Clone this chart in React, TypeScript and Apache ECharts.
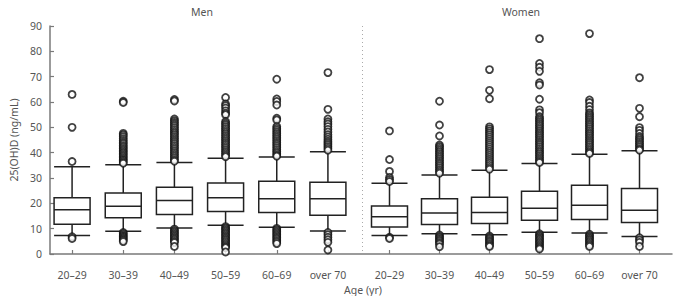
import React, { useEffect, useRef } from "react";
import * as echarts from "echarts";

const ageGroups = ["20–29", "30–39", "40–49", "50–59", "60–69", "over 70"];
const yTicks = { min: 0, max: 90, interval: 10 };

// [lower whisker, Q1, median, Q3, upper whisker]
const menBoxes = [
  [7.3, 11.7, 17.5, 22.2, 34.4],
  [9.0, 14.3, 18.8, 24.1, 35.2],
  [10.3, 15.6, 21.1, 26.3, 36.1],
  [11.3, 16.8, 22.2, 28.0, 37.8],
  [10.6, 16.4, 21.8, 28.7, 38.3],
  [9.1, 15.3, 21.8, 28.3, 40.4],
];
const womenBoxes = [
  [7.3, 10.7, 14.7, 18.9, 27.9],
  [8.0, 11.6, 16.2, 21.8, 31.2],
  [7.6, 12.0, 16.4, 22.4, 33.1],
  [8.6, 13.3, 18.1, 24.8, 35.7],
  [8.3, 13.6, 19.2, 27.1, 39.4],
  [6.9, 12.4, 17.3, 25.9, 40.8],
];

const menOutliers = [
  [63, 50, 36.5, 6.8, 6.1],
  [60.3, 59.8, 47.6, 47, 46.3, 45.5, 44.8, 44.1, 43.5, 42.8, 42.2, 41.6, 41, 40.4, 39.8, 39.2, 38.6, 38, 37.4, 36.9, 36.3, 35.8,
    8.5, 8, 7.4, 6.9, 6.4, 5.9, 5.4, 4.9],
  [61, 60.4, 53.3, 52.6, 51.9, 51.2, 50.5, 49.8, 49.1, 48.4, 47.7, 47, 46.3, 45.6, 44.9, 44.2, 43.5, 42.8, 42.1, 41.4, 40.7, 40, 39.3, 38.6, 37.9, 37.2, 36.6,
    9.8, 9.2, 8.6, 8, 7.4, 6.8, 6.2, 5.6, 5, 4.5, 3],
  [61.8, 59.2, 58.5, 57.6, 56.5, 55.6, 55, 52.3, 51.6, 50.9, 50.2, 49.5, 48.8, 48.1, 47.4, 46.7, 46, 45.3, 44.6, 43.9, 43.2, 42.5, 41.8, 41.1, 40.4, 39.7, 39, 38.4,
    10.8, 10.2, 9.6, 9, 8.4, 7.8, 7.2, 6.6, 6, 5.4, 4.8, 4.2, 3.6, 3, 2.5, 0.8],
  [69, 61.2, 60.2, 58.8, 53.6, 52.9, 50.3, 49.6, 48.9, 48.2, 47.5, 46.8, 46.1, 45.4, 44.7, 44, 43.3, 42.6, 41.9, 41.2, 40.5, 39.8, 39.1, 38.6,
    10.1, 9.5, 8.9, 8.3, 7.7, 7.1, 6.5, 5.9, 5.3, 4.7, 4.1],
  [71.6, 57.1, 53.3, 52.2, 51.3, 50.3, 49.2, 48.2, 47.1, 46.2, 45.3, 44.5, 43.8, 43.1, 42.4, 41.7, 41,
    8.5, 7.6, 6.6, 5.6, 4.6, 1.6],
];
const womenOutliers = [
  [48.6, 37.3, 32.6, 30.2, 29.4, 28.6, 6.6, 6.1],
  [60.3, 50.9, 46.6, 43, 42.4, 41.7, 41, 40.3, 39.6, 38.9, 38.2, 37.5, 36.8, 36.1, 35.4, 34.7, 34, 33.3, 32.6, 31.9,
    7.5, 6.9, 6.3, 5.7, 5.1, 4.5, 3.9, 2.9],
  [72.8, 64.6, 61.3, 50.2, 49.4, 48.6, 47.8, 47, 46.2, 45.4, 44.6, 43.8, 43, 42.2, 41.4, 40.6, 39.8, 39, 38.2, 37.4, 36.6, 35.8, 35, 34.2, 33.5,
    7.1, 6.5, 5.9, 5.3, 4.7, 4.1, 3.5, 3],
  [85, 75.2, 73.7, 72.1, 67.6, 66.7, 61.1, 56.9, 55.8, 54.2, 53.5, 52.8, 52.1, 51.4, 50.7, 50, 49.3, 48.6, 47.9, 47.2, 46.5, 45.8, 45.1, 44.4, 43.7, 43, 42.3, 41.6, 40.9, 40.2, 39.5, 38.8, 38.1, 37.4, 36.7, 36.1,
    8, 7.4, 6.8, 6.2, 5.6, 5, 4.4, 3.8, 3.2, 2.6, 2],
  [87, 60.8, 59.8, 58.3, 57, 55.7, 55, 54.3, 53.6, 52.9, 52.2, 51.5, 50.8, 50.1, 49.4, 48.7, 48, 47.3, 46.6, 45.9, 45.2, 44.5, 43.8, 43.1, 42.4, 41.7, 41, 40.3, 39.7,
    7.8, 7.2, 6.6, 6, 5.4, 4.8, 4.2, 3.6, 3],
  [69.6, 57.5, 54.2, 49.9, 48.8, 47.6, 46.4, 45.7, 45, 44.3, 43.6, 42.9, 42.2, 41.5, 41,
    6.4, 5.5, 4.6, 3],
];

const FONT = "Noto Sans";
const TEXT = "#555";
const AXIS = "#7a7a7a";

function toPoints(groups: number[][]) {
  const pts: number[][] = [];
  groups.forEach((vals, i) => vals.forEach((v) => pts.push([i, v])));
  return pts;
}

export default function App() {
  const ref = useRef<HTMLDivElement>(null);
  useEffect(() => {
    document.body.style.margin = "0";
    if (!ref.current) return;
    const chart = echarts.init(ref.current, null, { renderer: "svg" });
    const gridTop = 26;
    const gridH = 228;
    const catAxis = (gridIndex: number) => ({
      type: "category",
      gridIndex,
      data: ageGroups,
      offset: 5,
      axisLine: { show: false },
      axisTick: { show: true, inside: true, length: 4, alignWithLabel: true, lineStyle: { color: AXIS, width: 1.2 } },
      axisLabel: { margin: 10, fontSize: 10.5, color: TEXT, fontFamily: FONT },
      splitLine: { show: false },
    });
    const hiddenY = (gridIndex: number) => ({
      type: "value",
      gridIndex,
      min: yTicks.min,
      max: yTicks.max,
      show: false,
    });
    const boxStyle = { color: "#fff", borderColor: "#222", borderWidth: 1.5 };
    const outStyle = { color: "#fff", borderColor: "#111", borderWidth: 1.8 };
    chart.setOption({
      animation: false,
      textStyle: { fontFamily: FONT },
      grid: [
        { left: 40, top: gridTop, width: 632, height: gridH },
        { left: 46.5, top: gridTop, width: 307, height: gridH },
        { left: 364.5, top: gridTop, width: 300, height: gridH },
      ],
      xAxis: [
        {
          type: "value",
          gridIndex: 0,
          min: 0,
          max: 1,
          offset: 5,
          axisLine: { show: true, lineStyle: { color: AXIS, width: 1.5 } },
          axisTick: { show: false },
          axisLabel: { show: false },
          splitLine: { show: false },
        },
        catAxis(1),
        catAxis(2),
      ],
      yAxis: [
        {
          type: "value",
          gridIndex: 0,
          min: yTicks.min,
          max: yTicks.max,
          interval: yTicks.interval,
          name: "25(OH)D (ng/mL)",
          nameLocation: "middle",
          nameGap: 31,
          nameTextStyle: { fontSize: 10.5, color: TEXT, fontFamily: FONT },
          axisLine: { show: true, lineStyle: { color: AXIS, width: 1.5 } },
          axisTick: { show: true, inside: true, length: 4, lineStyle: { color: AXIS, width: 1.2 } },
          axisLabel: { margin: 8, fontSize: 10.5, color: TEXT, fontFamily: FONT },
          splitLine: { show: false },
        },
        hiddenY(1),
        hiddenY(2),
      ],
      graphic: [
        { type: "text", x: 202, y: 12, style: { text: "Men", textAlign: "center", textVerticalAlign: "middle", fontSize: 10.5, fill: TEXT, fontFamily: FONT } },
        { type: "text", x: 521, y: 12, style: { text: "Women", textAlign: "center", textVerticalAlign: "middle", fontSize: 10.5, fill: TEXT, fontFamily: FONT } },
        { type: "text", x: 363, y: 289.5, style: { text: "Age (yr)", textAlign: "center", textVerticalAlign: "middle", fontSize: 10.5, fill: TEXT, fontFamily: FONT } },
        { type: "line", shape: { x1: 362.5, y1: 26, x2: 362.5, y2: 254 }, style: { stroke: "#aaa", lineWidth: 1, lineDash: [1, 3] } },
      ],
      series: [
        { type: "boxplot", xAxisIndex: 1, yAxisIndex: 1, data: menBoxes, boxWidth: [36, 36], itemStyle: boxStyle, silent: true },
        { type: "boxplot", xAxisIndex: 2, yAxisIndex: 2, data: womenBoxes, boxWidth: [36, 36], itemStyle: boxStyle, silent: true },
        { type: "scatter", xAxisIndex: 1, yAxisIndex: 1, data: toPoints(menOutliers), symbol: "circle", symbolSize: 7, itemStyle: outStyle, silent: true },
        { type: "scatter", xAxisIndex: 2, yAxisIndex: 2, data: toPoints(womenOutliers), symbol: "circle", symbolSize: 7, itemStyle: outStyle, silent: true },
      ],
    });
    return () => chart.dispose();
  }, []);
  return <div ref={ref} style={{ width: 675, height: 296 }} />;
}
